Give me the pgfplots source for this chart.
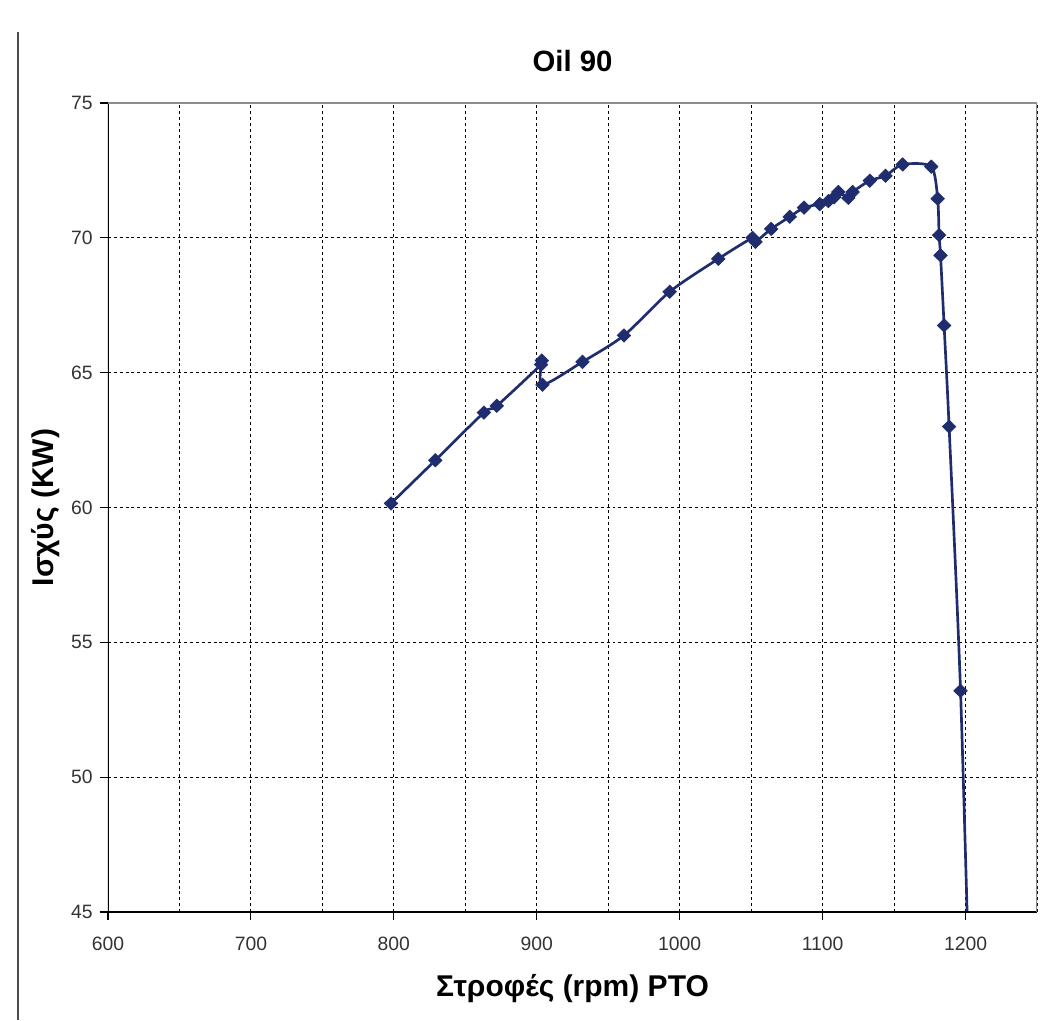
\documentclass[border=0pt]{standalone}
\usepackage{fontspec}
\setmainfont{Liberation Sans}
\usepackage{pgfplots}
\pgfplotsset{compat=1.18}
\definecolor{navy}{HTML}{1F2D6E}

\begin{document}
\begin{tikzpicture}
\begin{axis}[
  name=ax,
  scale only axis,
  width=696.75pt, height=606.75pt,
  xmin=600, xmax=1250, ymin=45, ymax=75,
  xtick={600,700,...,1200}, minor xtick={650,750,...,1250},
  ytick={45,50,...,75},
  xtick pos=bottom, ytick pos=left,
  xmajorgrids, xminorgrids, ymajorgrids,
  grid style={black, line width=0.7pt, dash pattern=on 2.2pt off 2.2pt},
  minor grid style={black, line width=0.7pt, dash pattern=on 2.2pt off 2.2pt},
  axis line style={draw=none},
  tick align=outside, major tick length=6pt, minor tick length=0pt,
  tick style={black, line width=0.8pt},
  /pgf/number format/assume math mode=true,
  /pgf/number format/set thousands separator={},
  ticklabel style={font=\fontsize{14.5}{14.5}\selectfont, text=black!80},
  xticklabel style={yshift=-9pt},
  yticklabel style={xshift=-2pt},
  title={\textbf{Oil 90}},
  title style={font=\fontsize{22}{22}\selectfont, yshift=14pt},
  xlabel={\textbf{Στροφές (rpm) PTO}},
  xlabel style={font=\fontsize{22.5}{22.5}\selectfont, yshift=-11pt},
  ylabel={\textbf{Ισχύς (KW)}},
  ylabel style={font=\fontsize{22.5}{22.5}\selectfont, yshift=2pt},
  clip=true,
]
\addplot[navy, line width=2pt, smooth, tension=0.45,
  mark=diamond*, mark size=5pt, mark options={fill=navy, draw=navy, line width=0.5pt, xscale=1.35}]
  coordinates {
  (798,60.15) (829,61.75) (863,63.52) (872,63.77) (903,65.3) (903.5,65.45)
  (904,64.55) (932,65.4) (961,66.38) (993,68.0) (1027,69.22) (1051,70.0)
  (1053,69.85) (1064,70.33) (1077,70.78) (1087,71.12) (1098,71.25)
  (1104,71.36) (1108,71.5) (1111,71.7) (1118,71.48) (1121,71.7)
  (1133,72.12) (1144,72.3) (1156,72.72) (1176,72.64) (1180.5,71.45)
  (1181.5,70.1) (1182.5,69.35) (1185,66.75) (1188.5,63.0) (1196.5,53.2)
  (1203.7,40)
  };
\draw[black, line width=1pt] (rel axis cs:0,0) -- (rel axis cs:1,0);
\draw[black, line width=1pt] (rel axis cs:0,0) -- (rel axis cs:0,1);
\draw[black!45, line width=1pt] (rel axis cs:0,1) -- (rel axis cs:1,1) -- (rel axis cs:1,0);
\end{axis}
\draw[black!70, line width=0.8pt] ([shift={(-67.5pt,-81pt)}]ax.south west) -- ([shift={(-67.5pt,660pt)}]ax.south west);
\useasboundingbox ([shift={(-81pt,-81pt)}]ax.south west) rectangle ([shift={(716.25pt,684pt)}]ax.south west);
\end{tikzpicture}
\end{document}
